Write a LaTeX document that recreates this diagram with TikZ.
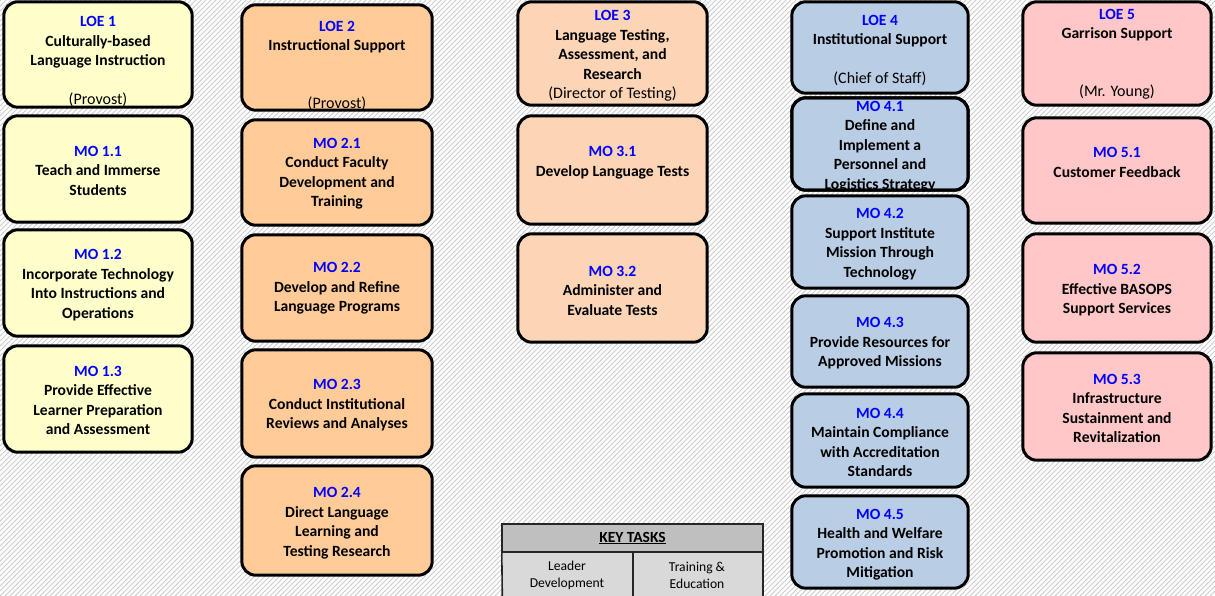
\documentclass[tikz,border=0pt]{standalone}
\usepackage{fontspec}
\setmainfont{Carlito}
\definecolor{cyel}{HTML}{FFFFCC}
\definecolor{corg}{HTML}{FFCC99}
\definecolor{cpch}{HTML}{FBD5B5}
\definecolor{cblu}{HTML}{B9CDE5}
\definecolor{cpnk}{HTML}{FFC7C7}
\definecolor{hatch}{HTML}{CCCCCC}
\definecolor{lblue}{HTML}{0000FF}
\definecolor{khead}{HTML}{BFBFBF}
\definecolor{kcell}{HTML}{D9D9D9}
\tikzset{
  boxfill/.style={rectangle, rounded corners=14pt, inner sep=0pt},
  boxline/.style={line width=3pt, rounded corners=14pt},
  txt/.style={align=center, inner sep=0pt, yshift=-1.5pt, font=\fontsize{15.6}{19.5}\selectfont\bfseries},
  subtxt/.style={align=center, inner sep=0pt, yshift=-1.5pt, font=\fontsize{16}{19.5}\selectfont},
  keyline/.style={line width=1.6pt, draw=black!85},
  keytxt/.style={align=center, inner sep=0pt, font=\fontsize{13.6}{17}\selectfont},
}
\newcommand\lbl[1]{\textcolor{lblue}{#1}}
% name, x1, y1, x2, y2, fill, text-center-y, text
\newcommand\obox[8]{%
  \node[boxfill, fill=#6, minimum width={(#4-#2)*1pt}, minimum height={(#5-#3)*1pt}] (#1) at ({(#2+#4)/2},{(#3+#5)/2}) {};
  \node[txt] (#1t) at ({(#2+#4)/2},#7) {#8};
  \draw[boxline] (#1.north west) rectangle (#1.south east);
}
\begin{document}
\begin{tikzpicture}[x=1pt,y=-1pt]
\useasboundingbox (0,0) rectangle (1215,596);
\begin{scope}
  \clip (0,0) rectangle (1215,596);
  \foreach \i in {-600,-595,...,1215} \draw[hatch, line width=0.8pt] (\i,596) -- (\i+596,0);
\end{scope}
% column 1
\obox{loe1}{4}{2}{192}{107}{cyel}{41}{\lbl{LOE 1}\\Culturally-based\\Language Instruction}
\node[subtxt] (loe1s) at (98,98) {(Provost)};
\obox{mo11}{4}{116}{192}{222}{cyel}{169}{\lbl{MO 1.1}\\Teach and Immerse\\Students}
\obox{mo12}{4}{230}{192}{336}{cyel}{283.5}{\lbl{MO 1.2}\\Incorporate Technology\\Into Instructions and\\Operations}
\obox{mo13}{4}{346}{192}{452}{cyel}{399}{\lbl{MO 1.3}\\Provide Effective\\Learner Preparation\\and Assessment}
% column 2
\obox{loe2}{242}{5}{432}{110}{corg}{35.5}{\lbl{LOE 2}\\Instructional Support}
\node[subtxt] (loe2s) at (337,102) {(Provost)};
\obox{mo21}{242}{120}{432}{225}{corg}{172}{\lbl{MO 2.1}\\Conduct Faculty\\Development and\\Training}
\obox{mo22}{242}{235}{432}{341}{corg}{287}{\lbl{MO 2.2}\\Develop and Refine\\Language Programs}
\obox{mo23}{242}{350}{432}{457}{corg}{404}{\lbl{MO 2.3}\\Conduct Institutional\\Reviews and Analyses}
\obox{mo24}{242}{466}{432}{575}{corg}{521.5}{\lbl{MO 2.4}\\Direct Language\\Learning and\\Testing Research}
% column 3
\obox{loe3}{518}{2}{707}{105}{cpch}{54.5}{\lbl{LOE 3}\\Language Testing,\\Assessment, and\\Research\\{\mdseries\fontsize{16}{19.5}\selectfont(Director of Testing)}}
\obox{mo31}{518}{116}{707}{224}{cpch}{161}{\lbl{MO 3.1}\\Develop Language Tests}
\obox{mo32}{518}{234}{707}{342}{cpch}{289}{\lbl{MO 3.2}\\Administer and\\Evaluate Tests}
% column 4
\obox{loe4}{792}{2}{968}{93}{cblu}{29.5}{\lbl{LOE 4}\\Institutional Support}
\node[subtxt] (loe4s) at (880,77) {(Chief of Staff)};
\obox{mo41}{792}{98}{968}{190}{cblu}{145}{\lbl{MO 4.1}\\Define and\\Implement a\\Personnel and\\Logistics Strategy}
\draw[boxline] (mo41.north west) rectangle (mo41.south east);
\obox{mo42}{792}{196}{968}{288}{cblu}{242.5}{\lbl{MO 4.2}\\Support Institute\\Mission Through\\Technology}
\obox{mo43}{792}{296}{968}{387}{cblu}{342}{\lbl{MO 4.3}\\Provide Resources for\\Approved Missions}
\obox{mo44}{792}{394}{968}{487}{cblu}{441}{\lbl{MO 4.4}\\Maintain Compliance\\with Accreditation\\Standards}
\obox{mo45}{792}{496}{968}{588}{cblu}{543}{\lbl{MO 4.5}\\Health and Welfare\\Promotion and Risk\\Mitigation}
% column 5
\obox{loe5}{1023}{2}{1211}{105}{cpnk}{23.5}{\lbl{LOE 5}\\Garrison Support}
\node[subtxt] (loe5s) at (1117,91) {(Mr. Young)};
\obox{mo51}{1023}{118}{1211}{223}{cpnk}{161}{\lbl{MO 5.1}\\Customer Feedback}
\obox{mo52}{1023}{234}{1211}{342}{cpnk}{289}{\lbl{MO 5.2}\\Effective BASOPS\\Support Services}
\obox{mo53}{1023}{353}{1211}{460}{cpnk}{407}{\lbl{MO 5.3}\\Infrastructure\\Sustainment and\\Revitalization}
% key tasks table
\node[fill=khead, minimum width=261pt, minimum height=28pt, inner sep=0pt] (kh) at (632.5,538) {};
\node[fill=kcell, minimum width=130pt, minimum height=46pt, inner sep=0pt] (k1) at (567.5,575) {};
\node[fill=kcell, minimum width=131pt, minimum height=46pt, inner sep=0pt] (k2) at (697.5,575) {};
\draw[keyline] (kh.south west) |- (kh.north east) -- (kh.south east) -- cycle;
\draw[keyline] (k1.north east) -- (k1.south east);
\draw[keyline] (kh.south west) -- (k1.south west);
\draw[keyline] (kh.south east) -- (k2.south east);
\node[inner sep=0pt, font=\fontsize{15.5}{17}\selectfont\bfseries] (kht) at (kh.center) {\underline{KEY TASKS}};
\node[keytxt] (k1t) at (567,575) {Leader\\Development};
\node[keytxt] (k2t) at (697,575) {Training \&\\Education};
\end{tikzpicture}
\end{document}
